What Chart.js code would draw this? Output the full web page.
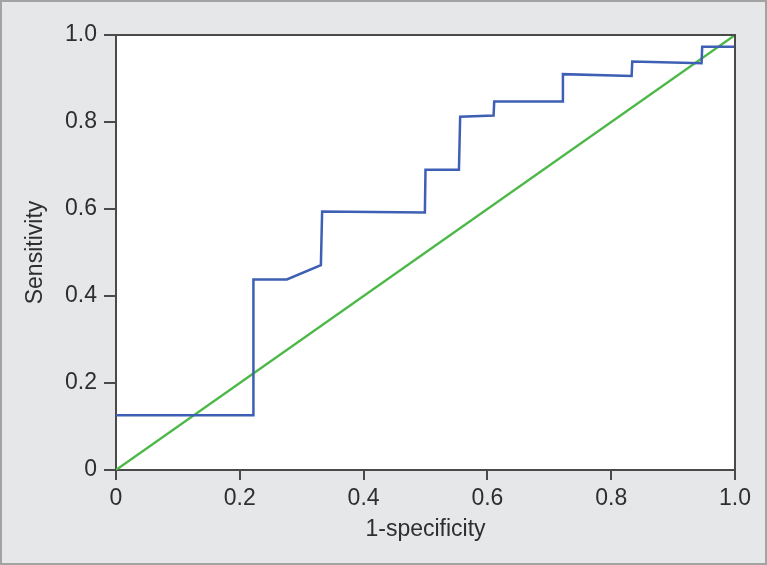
<!DOCTYPE html>
<html>
<head>
<meta charset="utf-8">
<script src="https://cdn.jsdelivr.net/npm/chart.js@4/dist/chart.umd.min.js"></script>
<style>
  html, body { margin: 0; padding: 0; background: #e6e7e8; }
  #roc { display: block; }
</style>
</head>
<body>
<canvas id="roc" width="767" height="565"></canvas>
<script>
// ROC curve (1-specificity, sensitivity)
const rocX = [0, 0.222, 0.222, 0.276, 0.331, 0.333, 0.499, 0.500, 0.554, 0.556, 0.610, 0.611, 0.721, 0.722, 0.833, 0.834, 0.946, 0.947, 1.0];
const rocY = [0.126, 0.126, 0.438, 0.438, 0.471, 0.594, 0.592, 0.690, 0.690, 0.812, 0.815, 0.847, 0.847, 0.910, 0.906, 0.939, 0.935, 0.973, 0.973];
// reference diagonal
const refX = [0, 1];
const refY = [0, 1];
const xTickLabels = ['0', '0.2', '0.4', '0.6', '0.8', '1.0'];
const yTickLabels = ['0', '0.2', '0.4', '0.6', '0.8', '1.0'];

const AXIS_COLOR = '#4a4a4a';
const TEXT_COLOR = '#2e2e2e';
const FONT = { family: "'Liberation Sans', Arial, sans-serif", size: 23 };

function zip(xs, ys) {
  return xs.map((x, i) => ({ x, y: ys[i] }));
}

const backdrop = {
  id: 'backdrop',
  beforeDraw(chart) {
    const { ctx, chartArea: a, width, height } = chart;
    ctx.save();
    ctx.fillStyle = '#e6e7e8';
    ctx.fillRect(0, 0, width, height);
    ctx.strokeStyle = '#a3a3a3';
    ctx.lineWidth = 2;
    ctx.strokeRect(1, 1, width - 2, height - 2);
    ctx.fillStyle = '#ffffff';
    ctx.fillRect(a.left, a.top, a.right - a.left, a.bottom - a.top);
    ctx.restore();
  },
  afterDatasetsDraw(chart) {
    const { ctx, chartArea: a } = chart;
    ctx.save();
    ctx.strokeStyle = AXIS_COLOR;
    ctx.lineWidth = 2;
    ctx.beginPath();
    ctx.moveTo(a.left, a.top);
    ctx.lineTo(a.right, a.top);
    ctx.lineTo(a.right, a.bottom);
    ctx.stroke();
    ctx.restore();
  }
};

new Chart(document.getElementById('roc'), {
  type: 'scatter',
  data: {
    datasets: [
      {
        label: 'ROC',
        data: zip(rocX, rocY),
        showLine: true,
        borderColor: '#3d5fb4',
        borderWidth: 2.5,
        pointRadius: 0,
        fill: false,
        tension: 0,
      },
      {
        label: 'Reference',
        data: zip(refX, refY),
        showLine: true,
        borderColor: '#4cb848',
        borderWidth: 2.3,
        pointRadius: 0,
        fill: false,
      },
    ],
  },
  options: {
    responsive: false,
    animation: false,
    devicePixelRatio: 1,
    layout: { padding: { top: 35, right: 32, left: 0, bottom: 0 } },
    plugins: { legend: { display: false }, tooltip: { enabled: false } },
    scales: {
      x: {
        type: 'linear',
        min: 0, max: 1,
        afterBuildTicks(scale) { scale.ticks = xTickLabels.map(Number).map(v => ({ value: v })); },
        afterFit(scale) { scale.height = 95; },
        ticks: {
          callback: (v, i) => xTickLabels[i],
          color: TEXT_COLOR, font: FONT, padding: 5, maxRotation: 0,
        },
        grid: { drawOnChartArea: false, tickLength: 10, color: AXIS_COLOR, lineWidth: 2 },
        border: { display: true, color: AXIS_COLOR, width: 2 },
        title: { display: true, text: '1-specificity', color: TEXT_COLOR, font: FONT, padding: { top: 0, bottom: 22 } },
      },
      y: {
        type: 'linear',
        min: 0, max: 1,
        afterBuildTicks(scale) { scale.ticks = yTickLabels.map(Number).map(v => ({ value: v })); },
        afterFit(scale) { scale.width = 116; },
        ticks: {
          callback: (v, i) => yTickLabels[i],
          color: TEXT_COLOR, font: FONT, padding: 7,
        },
        grid: { drawOnChartArea: false, tickLength: 12, color: AXIS_COLOR, lineWidth: 2 },
        border: { display: true, color: AXIS_COLOR, width: 2 },
        title: { display: true, text: 'Sensitivity', color: TEXT_COLOR, font: FONT, padding: { top: 22, bottom: 0 } },
      },
    },
  },
  plugins: [backdrop],
});
</script>
</body>
</html>
